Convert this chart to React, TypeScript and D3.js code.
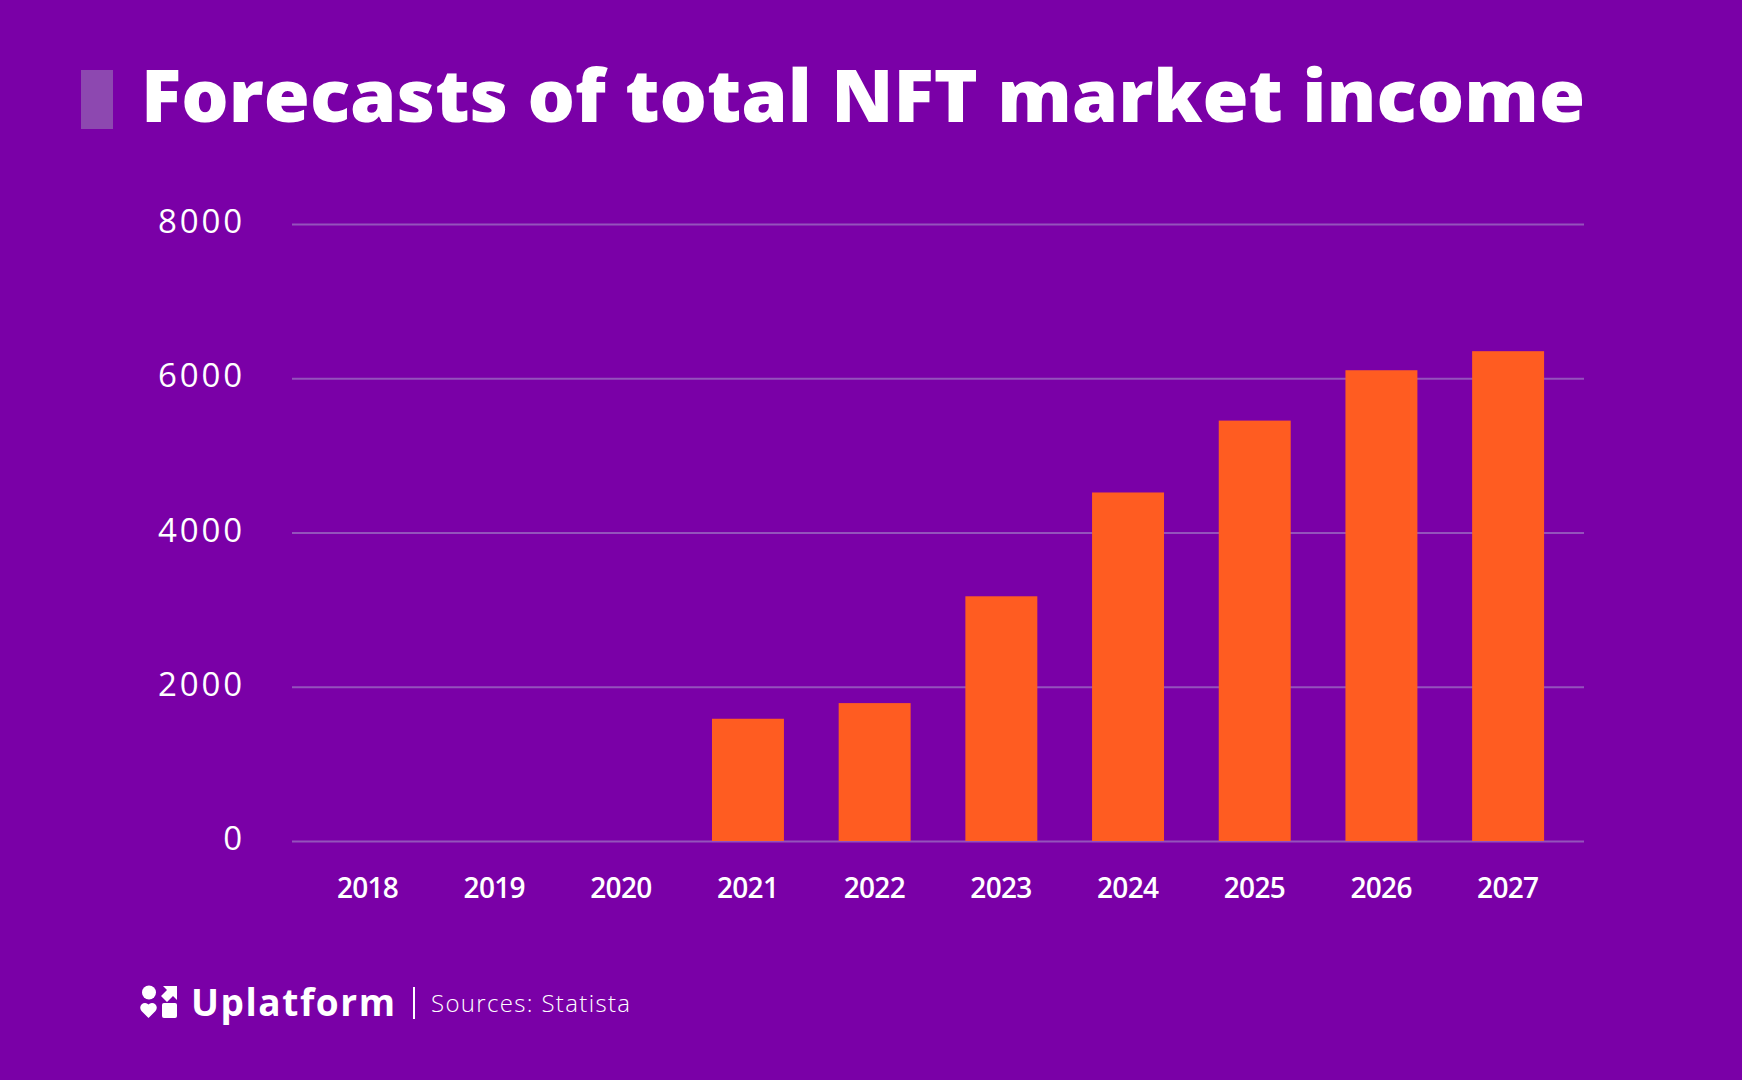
import * as d3 from "d3";
import React, { useRef, useEffect } from "react";

const years = ["2018", "2019", "2020", "2021", "2022", "2023", "2024", "2025", "2026", "2027"];
const income = [0, 0, 0, 1585, 1788, 3173, 4519, 5451, 6104, 6351];
const yTicks = [0, 2000, 4000, 6000, 8000];

const W = 1742;
const H = 1080;
const plot = { left: 292, right: 1584, top: 224, bottom: 841 };
const bg = "#7A00A7";
const barFill = "#FF5C21";
const gridColor = "#9452BC";
const font = "'Open Sans', 'DejaVu Sans', sans-serif";

const App = () => {
	const d3Container = useRef<SVGGElement | null>(null);

	useEffect(() => {
		if (!d3Container.current) return;
		const g = d3.select(d3Container.current);
		g.selectAll("*").remove();

		const xScale = d3
			.scaleBand()
			.domain(years)
			.range([plot.left, plot.right])
			.paddingInner(0.432)
			.paddingOuter(0.315);
		const yScale = d3.scaleLinear().domain([0, 8000]).range([plot.bottom, plot.top]);

		// y axis with grid lines
		const yAxis = g
			.append("g")
			.attr("transform", `translate(${plot.left},0)`)
			.call(
				d3
					.axisLeft(yScale)
					.tickValues(yTicks)
					.tickSizeInner(-(plot.right - plot.left))
					.tickSizeOuter(0)
					.tickPadding(50)
					.tickFormat((v: any) => String(v))
			);
		yAxis.select(".domain").remove();
		yAxis.selectAll(".tick line").attr("stroke", gridColor).attr("stroke-width", 2);
		yAxis
			.selectAll(".tick text")
			.attr("fill", "#ffffff")
			.attr("font-family", font)
			.attr("font-size", 33)
			.attr("font-weight", 400)
			.attr("dy", "0.26em")
			.attr("textLength", (d: any) => (String(d).length === 1 ? 20 : 84));

		// bars
		g.append("g")
			.selectAll("rect")
			.data(years.map((y, i) => ({ year: y, value: income[i] })))
			.enter()
			.append("rect")
			.attr("x", (d: any): any => xScale(d.year))
			.attr("y", (d: any) => yScale(d.value))
			.attr("width", xScale.bandwidth())
			.attr("height", (d: any) => plot.bottom - yScale(d.value))
			.attr("fill", barFill);

		// x axis
		const xAxis = g
			.append("g")
			.attr("transform", `translate(0,${plot.bottom})`)
			.call(d3.axisBottom(xScale).tickSize(0).tickPadding(37));
		xAxis.select(".domain").remove();
		xAxis
			.selectAll(".tick text")
			.attr("fill", "#ffffff")
			.attr("font-family", font)
			.attr("font-size", 28)
			.attr("font-weight", 600)
			.attr("textLength", 62);
	}, []);

	return (
		<svg
			width={W}
			height={H}
			style={{ position: "absolute", left: 0, top: 0, display: "block" }}>
			<rect x={0} y={0} width={W} height={H} fill={bg} />
			{/* title */}
			<rect x={81} y={70} width={32} height={59} fill="#8D48B0" />
			<text
				x={141}
				y={122}
				fill="#ffffff"
				fontFamily={font}
				fontSize={72}
				fontWeight={800}
				textLength={1444}
				lengthAdjust="spacingAndGlyphs">
				Forecasts of total NFT market income
			</text>
			<g ref={d3Container} />
			{/* footer logo */}
			<g fill="#ffffff">
				<circle cx={149} cy={992.5} r={7} />
				<path d="M163,986 L177,986 L177,1000 L173,996 L167,1002 L161,996 L167,990 Z" />
				<path d="M148.5,1018 L141.5,1011 A4,4 0 0 1 148.5,1004.5 A4,4 0 0 1 155.5,1011 Z" />
				<rect x={162} y={1003} width={15} height={15} rx={2} />
			</g>
			<text
				x={191}
				y={1016}
				fill="#ffffff"
				fontFamily={font}
				fontSize={37}
				fontWeight={700}
				textLength={204}>
				Uplatform
			</text>
			<line x1={414} x2={414} y1={987} y2={1019} stroke="#ffffff" strokeWidth={2} />
			<text
				x={431}
				y={1012}
				fill="#ffffff"
				fontFamily={font}
				fontSize={24}
				fontWeight={300}
				textLength={199}>
				Sources: Statista
			</text>
		</svg>
	);
};

export default App;
